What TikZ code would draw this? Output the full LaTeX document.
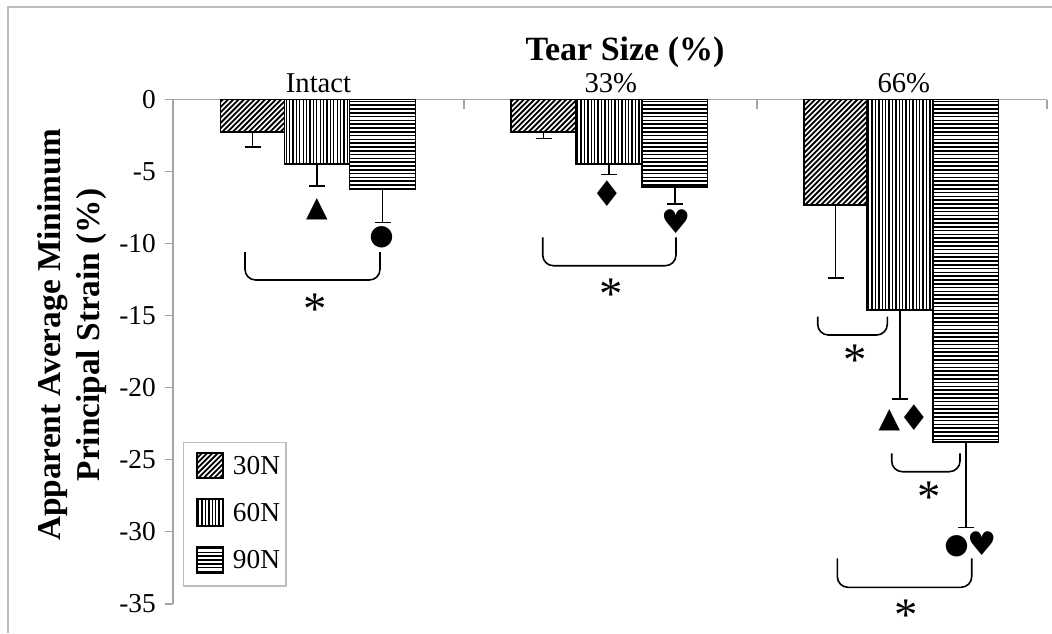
\documentclass[tikz,border=0pt]{standalone}
\usepackage{fontspec}
\setmainfont{Liberation Serif}
\newfontfamily\symfont{DejaVu Sans}
\definecolor{axisgray}{RGB}{165,165,165}
\definecolor{framegray}{RGB}{190,190,190}
\tikzset{
  axisline/.style={draw=axisgray, line width=0.8pt},
  barline/.style={draw=black, line width=1.3pt},
  hatchD/.style={line width=1.35pt},
  hatchV/.style={line width=1.0pt},
  hatchH/.style={line width=1.1pt},
  errline/.style={line width=1.2pt},
  bracket/.style={line width=1.2pt, rounded corners=8pt},
  ticklab/.style={anchor=east, inner sep=0pt, font=\fontsize{20.5}{24}\selectfont},
  catlab/.style={anchor=base, inner sep=0pt, font=\fontsize{21.5}{25}\selectfont},
  leglab/.style={anchor=west, inner sep=0pt, font=\fontsize{20.5}{24}\selectfont},
  sym/.style={inner sep=0pt, font=\symfont\fontsize{21}{24}\selectfont},
  symbig/.style={inner sep=0pt, font=\symfont\fontsize{26.5}{30}\selectfont},
  symmid/.style={inner sep=0pt, font=\symfont\fontsize{24.5}{28}\selectfont},
  star/.style={anchor=center, inner sep=0pt, font=\fontsize{35}{40}\selectfont},
}
\newcommand\astk{\raisebox{-0.28em}[0.4em][0pt]{*}}
\newcommand\diagrect[4]{%
  \begin{scope}\clip (#1,#2) rectangle (#3,#4);
  \foreach \t in {-112,-106.7,...,70}{\draw[hatchD] ({#1+\t},{#4+2}) -- ++(120,-120);}
  \end{scope}\draw[barline] (#1,#2) rectangle (#3,#4);}
\newcommand\vertrect[4]{%
  \begin{scope}\clip (#1,#2) rectangle (#3,#4);
  \foreach \t in {1.7,5.1,...,67}{\draw[hatchV] ({#1+\t},#2) -- ({#1+\t},#4);}
  \end{scope}\draw[barline] (#1,#2) rectangle (#3,#4);}
\newcommand\horrect[4]{%
  \begin{scope}\clip (#1,#2) rectangle (#3,#4);
  \foreach \t in {1.9,5.7,...,440}{\draw[hatchH] (#1,{#2+\t}) -- (#3,{#2+\t});}
  \end{scope}\draw[barline] (#1,#2) rectangle (#3,#4);}
\newcommand\errbar[3]{% x, ybottom, yend
  \draw[errline] (#1,#2) -- (#1,#3) (#1-8,#3) -- (#1+8,#3);}
\begin{document}
\begin{tikzpicture}[x=0.75pt, y=-0.75pt]
\useasboundingbox (0,0) rectangle (1052,633);
% frame
\draw[draw=framegray, line width=0.8pt] (8,633) -- (8,7) -- (1052,7);
% axes
\draw[axisline] (173,99.5) -- (1047,99.5);
\draw[axisline] (173,99.5) -- (173,604);
\foreach \k [count=\i from 0] in {0,-5,-10,-15,-20,-25,-30,-35}{
  \draw[axisline] (165,{99.5+72.07*\i}) -- (173,{99.5+72.07*\i});
  \node[ticklab] (t\i) at (156,{99.5+72.07*\i}) {\k};
}
\foreach \x in {464,757,1047}{\draw[axisline] (\x,99.5) -- (\x,109);}
% titles
\node[anchor=base, inner sep=0pt, font=\bfseries\fontsize{25.5}{30}\selectfont] (title) at (625,60) {Tear Size (\%)};
\node[catlab] (c1) at (318.5,92.3) {Intact};
\node[catlab] (c2) at (610.8,92.3) {33\%};
\node[catlab] (c3) at (903.8,92.3) {66\%};
\node[rotate=90, align=center, inner sep=0pt, font=\bfseries\fontsize{25}{29.5}\selectfont] (ytitle) at (72,335) {Apparent Average Minimum\\Principal Strain (\%)};
% Intact
\diagrect{220.5}{99.5}{284.5}{132.3}
\vertrect{284.5}{99.5}{349.5}{163.7}
\horrect{349.5}{99.5}{415.5}{189}
\errbar{252.5}{132.3}{147}
\errbar{317}{163.7}{186}
\errbar{382.5}{189}{222.3}
% 33%
\diagrect{511}{99.5}{576}{132.3}
\vertrect{576}{99.5}{642}{163.7}
\horrect{642}{99.5}{707.5}{186.7}
\errbar{543.5}{132.3}{138.3}
\errbar{609}{163.7}{174.3}
\errbar{674.8}{186.7}{203.7}
% 66%
\diagrect{804}{99.5}{867}{204.7}
\vertrect{867}{99.5}{933}{310}
\horrect{933}{99.5}{998.5}{441.7}
\errbar{835.5}{204.7}{277.7}
\errbar{900}{310}{398.7}
\errbar{965.8}{441.7}{527.3}
% symbols
\node[sym] (s1) at (317,209) {▲};
\node[sym] (s2) at (381.7,237.3) {●};
\node[symbig] (s3) at (607.3,193.3) {♦};
\node[symmid] (s4) at (676,221.7) {♥};
\node[sym] (s5) at (889.3,420.7) {▲};
\node[symbig] (s6) at (914.3,417.7) {♦};
\node[sym] (s7) at (956.7,546) {●};
\node[symmid] (s8) at (981.7,543.3) {♥};
% brackets
\draw[bracket] (245,252) |- (380,280) -- (380,252);
\draw[bracket] (542.7,237.3) |- (676,265.7) -- (676,237.3);
\draw[bracket] (817.7,316.7) |- (887.3,335) -- (887.3,316.7);
\draw[bracket] (891.7,453.3) |- (960,471.7) -- (960,453.3);
\draw[bracket] (837.3,558.3) |- (971.7,587.3) -- (971.7,558.3);
\node[star] (a1) at (315,301.7) {\astk};
\node[star] (a2) at (611,286.7) {\astk};
\node[star] (a3) at (855,353.3) {\astk};
\node[star] (a4) at (929,490) {\astk};
\node[star] (a5) at (906,608.3) {\astk};
% legend
\draw[draw=framegray, line width=0.8pt] (183.3,442.3) rectangle (286,586);
\diagrect{197}{452.7}{223.3}{478}
\vertrect{197}{499.3}{223.3}{525.7}
\horrect{197}{546.7}{223.3}{573.3}
\node[leglab] (l1) at (232.7,465.5) {30N};
\node[leglab] (l2) at (232.7,512.5) {60N};
\node[leglab] (l3) at (232.7,560) {90N};
\end{tikzpicture}
\end{document}
